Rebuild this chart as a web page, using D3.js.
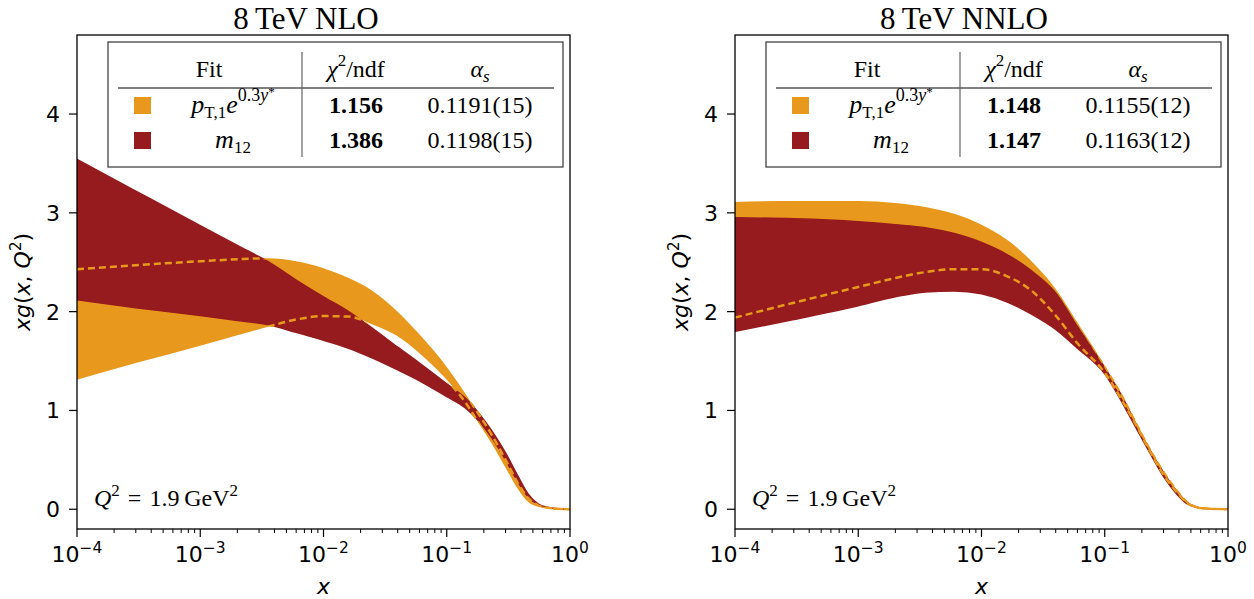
<!DOCTYPE html>
<html>
<head>
<meta charset="utf-8">
<script src="https://cdn.jsdelivr.net/npm/d3@7"></script>
<style>
  body { margin: 0; background: #fff; }
  svg { display: block; }
</style>
</head>
<body>
<svg id="chart" width="1254" height="599"></svg>
<script>
// x grid shared by every band (log spaced by eye)
const xGrid = [1e-4, 3e-4, 1e-3, 2e-3, 3.5e-3, 6e-3, 1e-2, 1.6e-2, 2.5e-2, 4e-2, 6e-2,
  0.1, 0.14, 0.18, 0.23, 0.3, 0.38, 0.46, 0.55, 0.65, 0.8, 1.0]

// 8 TeV NLO
const nloPtUpper = [2.43, 2.47, 2.51, 2.53, 2.54, 2.51, 2.44, 2.34, 2.21, 2.00, 1.77,
  1.44, 1.18, 0.97, 0.76, 0.50, 0.26, 0.11, 0.04, 0.015, 0.005, 0]
const nloPtLower = [1.31, 1.48, 1.655, 1.76, 1.845, 1.92, 1.955, 1.95, 1.87, 1.75, 1.58,
  1.31, 1.09, 0.88, 0.67, 0.42, 0.20, 0.07, 0.025, 0.01, 0.003, 0]
const nloM12Upper = [3.54, 3.22, 2.87, 2.67, 2.51, 2.32, 2.15, 2.00, 1.83, 1.64, 1.48,
  1.27, 1.13, 0.98, 0.80, 0.57, 0.33, 0.15, 0.055, 0.02, 0.005, 0]
const nloM12Lower = [2.12, 2.04, 1.96, 1.91, 1.87, 1.79, 1.71, 1.63, 1.53, 1.41, 1.30,
  1.14, 1.03, 0.90, 0.73, 0.50, 0.27, 0.12, 0.05, 0.02, 0.005, 0]

// 8 TeV NNLO
const nnloPtUpper = [3.11, 3.12, 3.12, 3.10, 3.06, 2.99, 2.88, 2.73, 2.52, 2.23, 1.89,
  1.45, 1.13, 0.87, 0.62, 0.38, 0.20, 0.08, 0.025, 0.01, 0.003, 0]
const nnloPtLower = [1.94, 2.09, 2.25, 2.34, 2.40, 2.43, 2.43, 2.36, 2.22, 1.96, 1.68,
  1.38, 1.09, 0.85, 0.60, 0.35, 0.18, 0.07, 0.02, 0.007, 0.002, 0]
const nnloM12Upper = [2.95, 2.94, 2.91, 2.88, 2.85, 2.79, 2.70, 2.58, 2.42, 2.19, 1.85,
  1.43, 1.13, 0.86, 0.61, 0.37, 0.19, 0.075, 0.022, 0.008, 0.002, 0]
const nnloM12Lower = [1.80, 1.92, 2.06, 2.15, 2.20, 2.21, 2.18, 2.10, 1.98, 1.82, 1.63,
  1.37, 1.07, 0.82, 0.58, 0.33, 0.16, 0.06, 0.02, 0.007, 0.002, 0]

const titles = ["8\u2009TeV NLO", "8\u2009TeV NNLO"]
const chi2Values = [["1.156", "1.386"], ["1.148", "1.147"]]
const alphaValues = [["0.1191(15)", "0.1198(15)"], ["0.1155(12)", "0.1163(12)"]]
const yTicks = [0, 1, 2, 3, 4]
const xTickExps = [-4, -3, -2, -1, 0]

const colours = { orange: "#e8991d", red: "#961b1e" }
const serif = "'Liberation Serif', 'DejaVu Serif', serif"
const sans = "'DejaVu Sans', sans-serif"

const panels = [
  { left: 77, ptUp: nloPtUpper, ptLo: nloPtLower, mUp: nloM12Upper, mLo: nloM12Lower },
  { left: 735, ptUp: nnloPtUpper, ptLo: nnloPtLower, mUp: nnloM12Upper, mLo: nnloM12Lower }
]

const W = 493, plotTop = 35, plotBottom = 529
const fs = 24, small = 17

const svg = d3.select("#chart")

panels.forEach((p, i) => {
	const g = svg.append("g").attr("transform", `translate(${p.left},0)`)

	const x = d3.scaleLog().domain([1e-4, 1]).range([0, W])
	const y = d3.scaleLinear().domain([-0.2, 4.8]).range([plotBottom, plotTop])

	const clipId = `clip${i}`
	g.append("clipPath").attr("id", clipId)
		.append("rect").attr("x", 0).attr("y", plotTop).attr("width", W).attr("height", plotBottom - plotTop)

	const plot = g.append("g").attr("clip-path", `url(#${clipId})`)

	const band = (up, lo) => d3.area()
		.x((d, k) => x(xGrid[k]))
		.y0((d, k) => y(lo[k]))
		.y1((d, k) => y(up[k]))
		.curve(d3.curveMonotoneX)(xGrid)

	const edge = vals => d3.line()
		.x((d, k) => x(xGrid[k]))
		.y((d, k) => y(vals[k]))
		.curve(d3.curveMonotoneX)(xGrid)

	const redPath = band(p.mUp, p.mLo)

	// orange band first, red band on top
	plot.append("path").attr("d", band(p.ptUp, p.ptLo)).attr("fill", colours.orange)
	plot.append("path").attr("d", redPath)
		.attr("fill", colours.red).attr("stroke", colours.red).attr("stroke-width", 1.5)

	// the dashed orange edges only show where they cross the red band
	const maskId = `redmask${i}`
	g.append("mask").attr("id", maskId).attr("maskUnits", "userSpaceOnUse")
		.attr("x", 0).attr("y", 0).attr("width", W).attr("height", 599)
		.append("path").attr("d", redPath)
		.attr("fill", "#fff").attr("stroke", "#fff").attr("stroke-width", 3)

	const dashes = plot.append("g").attr("mask", `url(#${maskId})`)
	;[p.ptUp, p.ptLo].forEach(vals => {
		dashes.append("path").attr("d", edge(vals))
			.attr("fill", "none").attr("stroke", colours.orange)
			.attr("stroke-width", 2.5).attr("stroke-dasharray", "7,4")
	})

	// frame
	g.append("rect").attr("x", 0).attr("y", plotTop).attr("width", W).attr("height", plotBottom - plotTop)
		.attr("fill", "none").attr("stroke", "#000").attr("stroke-width", 1.3)

	// y ticks
	yTicks.forEach(t => {
		g.append("line").attr("x1", -8).attr("x2", 0).attr("y1", y(t)).attr("y2", y(t))
			.attr("stroke", "#000").attr("stroke-width", 1.2)
		g.append("text").attr("x", -17).attr("y", y(t)).attr("dy", "0.36em")
			.attr("text-anchor", "end").attr("font-family", sans).attr("font-size", 22)
			.text(t)
	})

	// x ticks, major and minor
	xTickExps.forEach(e => {
		const v = Math.pow(10, e)
		g.append("line").attr("x1", x(v)).attr("x2", x(v)).attr("y1", plotBottom).attr("y2", plotBottom + 8)
			.attr("stroke", "#000").attr("stroke-width", 1.2)
		const t = g.append("text").attr("x", x(v)).attr("y", 562)
			.attr("text-anchor", "middle").attr("font-family", sans).attr("font-size", 22)
		t.append("tspan").text("10")
		t.append("tspan").attr("font-size", 15.5).attr("dy", -9).text(e < 0 ? "\u2212" + (-e) : e)
		if (e < 0) {
			for (let m = 2; m <= 9; m++) {
				const mv = m * v
				g.append("line").attr("x1", x(mv)).attr("x2", x(mv)).attr("y1", plotBottom).attr("y2", plotBottom + 4)
					.attr("stroke", "#000").attr("stroke-width", 1)
			}
		}
	})

	// axis labels
	g.append("text").attr("x", W / 2).attr("y", 594).attr("text-anchor", "middle")
		.attr("font-family", sans).attr("font-size", 22).attr("font-style", "italic").text("x")

	const yl = g.append("text").attr("transform", `translate(-47,${(plotTop + plotBottom) / 2}) rotate(-90)`)
		.attr("text-anchor", "middle").attr("font-family", sans).attr("font-size", 22)
	yl.append("tspan").attr("font-style", "italic").text("xg")
	yl.append("tspan").text("(")
	yl.append("tspan").attr("font-style", "italic").text("x")
	yl.append("tspan").text(", ")
	yl.append("tspan").attr("font-style", "italic").text("Q")
	yl.append("tspan").attr("font-size", 15).attr("dy", -9).text("2")
	yl.append("tspan").attr("dy", 9).text(")")

	// title
	g.append("text").attr("x", 229).attr("y", 29).attr("text-anchor", "middle")
		.attr("font-family", serif).attr("font-size", 31).text(titles[i])

	// Q^2 note
	const q = g.append("text").attr("x", 17).attr("y", 506)
		.attr("font-family", serif).attr("font-size", fs)
	q.append("tspan").attr("font-style", "italic").text("Q")
	q.append("tspan").attr("font-size", small).attr("dy", -10).text("2")
	q.append("tspan").attr("dy", 10).text("\u2004=\u20041.9\u2009GeV")
	q.append("tspan").attr("font-size", small).attr("dy", -10).text("2")

	// legend table
	const lg = g.append("g")
	lg.append("rect").attr("x", 31).attr("y", 42).attr("width", 455).attr("height", 125)
		.attr("fill", "#fff").attr("stroke", "#444").attr("stroke-width", 1.3)
	lg.append("line").attr("x1", 41).attr("x2", 477).attr("y1", 88).attr("y2", 88)
		.attr("stroke", "#000").attr("stroke-width", 1.1)
	lg.append("line").attr("x1", 225).attr("x2", 225).attr("y1", 52).attr("y2", 157)
		.attr("stroke", "#555").attr("stroke-width", 1.1)

	const txt = (xx, yy) => lg.append("text").attr("x", xx).attr("y", yy)
		.attr("text-anchor", "middle").attr("font-family", serif).attr("font-size", fs)

	txt(132, 77).text("Fit")
	const c = txt(279, 77)
	c.append("tspan").attr("font-style", "italic").text("\u03c7")
	c.append("tspan").attr("font-size", small).attr("dy", -11).text("2")
	c.append("tspan").attr("dy", 11).text("/ndf")
	const a = txt(403, 77)
	a.append("tspan").attr("font-style", "italic").text("\u03b1")
	a.append("tspan").attr("font-style", "italic").attr("font-size", small).attr("dy", 5).text("s")

	const rowY = [113, 148]
	const rowColours = [colours.orange, colours.red]
	rowY.forEach((ry, r) => {
		lg.append("rect").attr("x", 57).attr("y", ry - 16).attr("width", 17).attr("height", 17)
			.attr("fill", rowColours[r])
		const l = txt(156, ry)
		if (r === 0) {
			l.append("tspan").attr("font-style", "italic").attr("font-size", 26).text("p")
			l.append("tspan").attr("font-size", small).attr("dy", 5).text("T,1")
			l.append("tspan").attr("font-style", "italic").attr("font-size", 26).attr("dy", -5).text("e")
			l.append("tspan").attr("font-size", 18).attr("dy", -12).text("0.3")
			l.append("tspan").attr("font-size", 18).attr("font-style", "italic").text("y")
			l.append("tspan").attr("font-size", 13).attr("dy", -5).text("*")
		} else {
			l.append("tspan").attr("font-style", "italic").attr("font-size", 26).text("m")
			l.append("tspan").attr("font-size", small).attr("dy", 5).text("12")
		}
		txt(279, ry).attr("font-weight", "bold").text(chi2Values[i][r])
		txt(403, ry).text(alphaValues[i][r])
	})
})
</script>
</body>
</html>
